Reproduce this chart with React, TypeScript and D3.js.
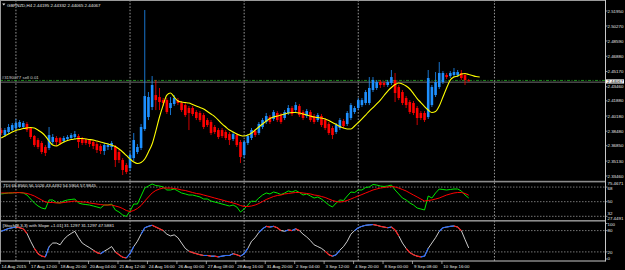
import React from "react";
import * as d3 from "d3";

const W = 625;
const H = 270;

const opens = [2.3861,2.3805,2.3839,2.3861,2.3884,2.3895,2.3895,2.3929,2.3884,2.3794,2.3749,2.3716,2.3671,2.3660,2.3727,2.3772,2.3772,2.3738,2.3760,2.3772,2.3783,2.3794,2.3760,2.3749,2.3749,2.3727,2.3704,2.3682,2.3626,2.3671,2.3671,2.3671,2.3615,2.3525,2.3469,2.3435,2.3547,2.3615,2.3660,2.3872,2.4007,2.4119,2.4253,2.4231,2.4197,2.4197,2.4108,2.4153,2.4197,2.4164,2.4141,2.4108,2.4108,2.4063,2.4052,2.4029,2.3973,2.3951,2.3895,2.3861,2.3861,2.3839,2.3816,2.3760,2.3805,2.3727,2.3581,2.3716,2.3772,2.3850,2.3828,2.3895,2.3951,2.4007,2.3985,2.4052,2.4029,2.3996,2.4052,2.4108,2.4085,2.4130,2.4063,2.4018,2.4063,2.4018,2.3973,2.4018,2.3973,2.3929,2.3884,2.3839,2.3884,2.3962,2.3929,2.3996,2.4063,2.4108,2.4141,2.4164,2.4164,2.4310,2.4332,2.4399,2.4388,2.4366,2.4388,2.4422,2.4343,2.4287,2.4220,2.4175,2.4164,2.4108,2.4052,2.4052,2.4007,2.4141,2.4253,2.4343,2.4399,2.4478,2.4466,2.4478,2.4478,2.4500,2.4478,2.44195];
const highs = [2.3884,2.3884,2.3929,2.3940,2.3985,2.3973,2.3962,2.3951,2.3895,2.3805,2.3772,2.3738,2.3693,2.3895,2.3816,2.3794,2.3783,2.3794,2.3805,2.3828,2.3850,2.3816,2.3783,2.3772,2.3760,2.3749,2.3727,2.3704,2.3716,2.3716,2.3738,2.3693,2.3637,2.3547,2.3491,2.3615,2.3828,2.3704,2.3929,2.5206,2.4287,2.4466,2.4422,2.4332,2.4220,2.4220,2.4231,2.4253,2.4220,2.4186,2.4164,2.4130,2.4130,2.4085,2.4074,2.4052,2.3996,2.3973,2.3917,2.3884,2.3884,2.3861,2.3839,2.3839,2.3828,2.3749,2.3749,2.3816,2.3884,2.3872,2.3951,2.3996,2.4052,2.4029,2.4085,2.4074,2.4052,2.4085,2.4141,2.4130,2.4175,2.4153,2.4085,2.4097,2.4085,2.4041,2.4052,2.4041,2.3996,2.3951,2.3906,2.3940,2.3996,2.3985,2.4074,2.4164,2.4130,2.4220,2.4220,2.4310,2.4455,2.4455,2.4422,2.4422,2.4410,2.4422,2.4534,2.4500,2.4366,2.4310,2.4242,2.4197,2.4186,2.4130,2.4074,2.4074,2.4534,2.4366,2.4511,2.4623,2.4522,2.4500,2.4522,2.4556,2.4534,2.4534,2.4500,2.44332];
const lows = [2.3805,2.3783,2.3816,2.3850,2.3861,2.3884,2.3872,2.3839,2.3760,2.3671,2.3648,2.3592,2.3570,2.3637,2.3704,2.3682,2.3693,2.3716,2.3738,2.3749,2.3760,2.3660,2.3693,2.3693,2.3671,2.3648,2.3604,2.3592,2.3581,2.3637,2.3637,2.3447,2.3491,2.3357,2.3368,2.3402,2.3514,2.3592,2.3637,2.3850,2.3973,2.4085,2.4085,2.4085,2.4130,2.4041,2.4029,2.4130,2.4141,2.4063,2.4007,2.3861,2.4018,2.3973,2.3951,2.3872,2.3895,2.3805,2.3816,2.3760,2.3772,2.3749,2.3693,2.3738,2.3671,2.3491,2.3547,2.3693,2.3749,2.3783,2.3805,2.3872,2.3929,2.3929,2.3962,2.3951,2.3929,2.3973,2.4029,2.4018,2.4063,2.4007,2.3973,2.3996,2.3951,2.3929,2.3951,2.3895,2.3861,2.3805,2.3760,2.3816,2.3861,2.3884,2.3906,2.3973,2.4041,2.4085,2.4119,2.4141,2.4141,2.4287,2.4310,2.4332,2.4343,2.4343,2.4366,2.4175,2.4197,2.4141,2.4108,2.4041,2.4029,2.3917,2.3973,2.3951,2.3985,2.4119,2.4231,2.4321,2.4377,2.4433,2.4444,2.4455,2.4455,2.4422,2.4366,2.44065];
const closes = [2.3828,2.3861,2.3895,2.3917,2.3940,2.3951,2.3940,2.3861,2.3783,2.3693,2.3671,2.3615,2.3604,2.3805,2.3783,2.3727,2.3716,2.3772,2.3783,2.3805,2.3816,2.3727,2.3716,2.3716,2.3704,2.3682,2.3637,2.3626,2.3693,2.3693,2.3716,2.3525,2.3525,2.3413,2.3391,2.3581,2.3749,2.3671,2.3895,2.4242,2.4231,2.4366,2.4197,2.4175,2.4164,2.4063,2.4164,2.4220,2.4164,2.4085,2.4029,2.4052,2.4041,2.3996,2.3973,2.3895,2.3917,2.3828,2.3839,2.3783,2.3794,2.3772,2.3749,2.3816,2.3693,2.3559,2.3727,2.3794,2.3861,2.3805,2.3929,2.3973,2.4018,2.3951,2.4063,2.3973,2.3951,2.4063,2.4108,2.4041,2.4141,2.4029,2.3996,2.4074,2.3973,2.3951,2.4029,2.3917,2.3884,2.3828,2.3805,2.3917,2.3973,2.3906,2.4052,2.4141,2.4108,2.4197,2.4197,2.4287,2.4332,2.4422,2.4399,2.4366,2.4366,2.4399,2.4455,2.4276,2.4220,2.4164,2.4141,2.4063,2.4052,2.3996,2.3996,2.3973,2.4444,2.4343,2.4399,2.4500,2.4500,2.4455,2.4500,2.4511,2.4511,2.4444,2.4422,2.44067];

const maValues = [2.3772,2.3794,2.3816,2.3839,2.3856,2.3867,2.3878,2.3884,2.3889,2.3884,2.3861,2.3833,2.3794,2.3738,2.3693,2.3682,2.3704,2.3727,2.3744,2.3755,2.3760,2.3766,2.3766,2.3760,2.3755,2.3749,2.3738,2.3727,2.3716,2.3704,2.3693,2.3677,2.3648,2.3615,2.3576,2.3536,2.3503,2.3486,2.3497,2.3536,2.3615,2.3704,2.3850,2.4007,2.4141,2.4253,2.4276,2.4231,2.4186,2.4175,2.4169,2.4164,2.4147,2.4130,2.4113,2.4097,2.4068,2.4041,2.4012,2.3973,2.3929,2.3895,2.3861,2.3839,2.3816,2.3800,2.3794,2.3805,2.3828,2.3861,2.3895,2.3929,2.3962,2.3990,2.4007,2.4018,2.4029,2.4041,2.4052,2.4058,2.4058,2.4052,2.4041,2.4029,2.4018,2.4007,2.4001,2.3996,2.3985,2.3968,2.3945,2.3923,2.3900,2.3884,2.3872,2.3872,2.3906,2.3945,2.3985,2.4029,2.4074,2.4113,2.4153,2.4197,2.4248,2.4298,2.4338,2.4371,2.4388,2.4377,2.4354,2.4321,2.4270,2.4214,2.4169,2.4124,2.4085,2.4058,2.4068,2.4130,2.4231,2.4332,2.4422,2.4455,2.4466,2.4489,2.4494,2.4483,2.4472,2.4461,2.4455];

const tdiPriceLine = [59.5,60.1,60.7,60.7,61.3,61.3,60.7,58.2,53.3,48.4,44.7,42.2,41.0,52.1,52.1,49.0,48.4,50.8,52.1,52.7,53.3,48.4,47.1,46.5,45.9,44.7,43.5,42.2,45.9,45.9,47.1,39.8,37.3,33.6,31.8,38.5,47.1,47.1,57.0,66.8,69.3,71.8,69.9,69.3,68.1,64.4,64.4,65.6,63.2,60.7,59.5,58.2,58.2,57.0,55.8,53.3,53.3,50.8,49.6,48.4,47.1,45.9,44.7,45.9,43.5,37.3,41.0,45.9,50.8,50.2,54.5,58.2,60.7,59.5,61.9,60.7,58.8,60.7,63.2,61.9,63.8,61.3,58.2,59.5,57.0,54.5,55.8,53.3,49.6,45.9,43.5,48.4,52.1,51.5,57.0,61.9,61.3,64.4,64.4,67.5,68.1,71.2,70.5,69.3,68.7,69.3,70.5,64.4,59.5,54.5,52.1,48.4,45.9,42.2,41.0,39.8,57.0,54.5,60.7,65.6,65.0,64.4,65.0,65.6,65.6,63.2,58.2,54.5904];
const tdiSignalLine = [60.7,60.7,60.7,60.9,61.1,61.1,60.9,60.1,58.8,57.0,54.5,52.1,49.6,49.0,49.0,48.4,48.4,49.0,49.6,50.2,50.8,50.2,49.6,49.6,48.4,47.8,47.1,46.5,45.9,45.9,45.9,44.7,43.5,41.6,39.1,37.9,39.1,41.6,45.3,50.8,55.8,60.7,63.8,65.6,66.8,66.8,66.8,66.2,65.6,64.4,63.8,62.5,61.3,60.1,59.5,58.2,57.0,55.8,54.5,53.3,52.1,50.8,49.6,48.4,47.1,45.3,44.1,44.1,44.7,45.9,47.8,50.2,52.7,54.5,56.4,57.6,58.2,59.5,60.1,60.7,61.3,61.3,60.7,60.1,59.5,58.2,57.6,56.4,55.2,53.3,51.5,50.2,49.6,50.2,51.5,53.3,55.2,57.0,58.8,60.7,62.5,64.4,65.6,66.8,67.5,68.1,68.7,68.1,66.8,65.0,63.2,60.7,58.2,55.8,53.3,50.8,51.5,52.1,53.3,54.5,56.4,58.2,59.5,60.7,61.3,61.3,60.1,57.9845];

const stochMain = [78,82,86,88,90,88,85,72,50,30,15,8,6,35,45,45,40,55,65,72,78,60,45,38,32,25,18,15,22,28,35,20,12,5,3,15,35,50,70,88,92,95,90,85,80,70,65,68,60,45,30,22,18,15,12,10,10,8,8,6,8,10,10,15,12,8,15,30,50,60,75,85,92,90,92,88,80,78,82,80,85,80,70,62,52,40,35,30,22,12,8,12,25,35,50,70,80,88,92,95,96,97,95,92,90,88,90,82,65,45,30,18,12,8,6,8,30,45,60,78,88,90,92,93,90,80,55,31.1297];

const priceTicks = [2.5195,2.5027,2.4859,2.4688,2.4517,2.4346,2.4188,2.4018,2.3848,2.3685,2.3513,2.3346];
const timeLabels = ["14 Aug 2015","17 Aug 12:00","18 Aug 20:00","20 Aug 04:00","21 Aug 12:00","24 Aug 16:00","26 Aug 00:00","27 Aug 08:00","28 Aug 16:00","31 Aug 20:00","2 Sep 04:00","3 Sep 12:00","4 Sep 20:00","8 Sep 00:00","9 Sep 08:00","10 Sep 16:00"];
const timeLabelBars = [0,8,16,24,32,40,48,56,64,72,80,88,96,104,112,120];
const weekStartBars = [4,35,66,97,134];
const tdiLevels = [68,50,32];
const tdiRange = [27.4491,75.4671];
const stochLevels = [80,20];
const stochAxis = [100,80,20,0];
const bidPrice = 2.44067;
const orderPrice = 2.4417;

const FONT = "'Liberation Sans', Arial, sans-serif";
const FS = 4.4;
const TXT = "#e6e6e6";

export default function App() {
  const right = 605.5;
  const x = d3.scaleLinear().domain([0, 127]).range([1.2, 468.7]);
  const yMain = d3.scaleLinear().domain([2.3346, 2.5195]).range([176, 11]);
  const yTdi = d3.scaleLinear().domain(tdiRange).range([220, 181]);
  const ySto = d3.scaleLinear().domain([0, 100]).range([259, 223.5]);
  const bw = 2.6;

  const maLine = d3.line<number>().x((_, i) => x(i)).y((d) => yMain(d)).curve(d3.curveMonotoneX);
  const tdiLine = d3.line<number>().x((_, i) => x(i)).y((d) => yTdi(d));
  const stoLine = d3.line<number>().x((_, i) => x(i)).y((d) => ySto(d));

  const stochSegs: { i: number; color: string }[] = [];
  for (let i = 0; i < stochMain.length - 1; i++) {
    const a = stochMain[i], b = stochMain[i + 1];
    if (Math.max(a, b) > 80 || Math.min(a, b) < 20) {
      stochSegs.push({ i, color: b >= a ? "#2a6bff" : "#ff1a1a" });
    }
  }

  const tdiLabelY = (v: number) => {
    const y = yTdi(v) + 1.6;
    if (v === 32) return y - 2.6;
    return y;
  };

  return (
    <svg width={W} height={H} style={{ position: "fixed", left: 0, top: 0, background: "#000" }}>
      <defs>
        <clipPath id="cMain"><rect x={0} y={0} width={right} height={181} /></clipPath>
        <clipPath id="cTdi"><rect x={0} y={182} width={right} height={38.5} /></clipPath>
        <clipPath id="cSto"><rect x={0} y={221.5} width={right} height={39.5} /></clipPath>
      </defs>
      <rect x={0} y={0} width={W} height={H} fill="#000" />

      {/* vertical grid */}
      {weekStartBars.map((b) => (
        <line key={"g" + b} x1={x(b)} x2={x(b)} y1={0} y2={261} stroke="#bdbdbd" strokeWidth={0.8} strokeDasharray="1.6,1.6" />
      ))}

      {/* indicator levels */}
      {tdiLevels.map((v) => (
        <line key={"tl" + v} x1={0} x2={right} y1={yTdi(v)} y2={yTdi(v)} stroke="#a8a8a8" strokeWidth={0.7} strokeDasharray="1.5,1.5" />
      ))}
      {stochLevels.map((v) => (
        <line key={"sl" + v} x1={0} x2={right} y1={ySto(v)} y2={ySto(v)} stroke="#a8a8a8" strokeWidth={0.7} strokeDasharray="1.5,1.5" />
      ))}

      {/* order & bid lines */}
      <line x1={0} x2={right} y1={yMain(bidPrice) + 0.8} y2={yMain(bidPrice) + 0.8} stroke="#8a8a8a" strokeWidth={0.8} />
      <line x1={0} x2={right} y1={yMain(orderPrice)} y2={yMain(orderPrice)} stroke="#1f9a1f" strokeWidth={0.9} strokeDasharray="3,1.5,1,1.5" />
      <text x={1.7} y={yMain(orderPrice) - 1.3} fill="#d0d0d0" fontSize={FS} fontFamily={FONT}>#3190077 sell 0.01</text>

      {/* candles */}
      <g clipPath="url(#cMain)">
        {closes.map((c, i) => {
          const o = opens[i];
          const bull = c >= o;
          const col = bull ? "#1e90ff" : "#ff0000";
          const yt = yMain(Math.max(o, c));
          const yb = yMain(Math.min(o, c));
          return (
            <g key={"c" + i}>
              <line x1={x(i)} x2={x(i)} y1={yMain(highs[i])} y2={yMain(lows[i])} stroke={col} strokeWidth={0.8} />
              <rect x={x(i) - bw / 2} y={yt} width={bw} height={Math.max(0.8, yb - yt)} fill={col} />
            </g>
          );
        })}
        <path d={maLine(maValues) || ""} fill="none" stroke="#ffff00" strokeWidth={1.1} />
      </g>

      {/* TDI */}
      <g clipPath="url(#cTdi)">
        <path d={tdiLine(tdiPriceLine) || ""} fill="none" stroke="#00e600" strokeWidth={1} />
        <path d={tdiLine(tdiSignalLine) || ""} fill="none" stroke="#ff0000" strokeWidth={1} />
      </g>

      {/* Stoch */}
      <g clipPath="url(#cSto)">
        <path d={stoLine(stochMain) || ""} fill="none" stroke="#ffffff" strokeWidth={0.8} />
        {stochSegs.map((s) => (
          <line key={"ss" + s.i} x1={x(s.i)} x2={x(s.i + 1)} y1={ySto(stochMain[s.i])} y2={ySto(stochMain[s.i + 1])} stroke={s.color} strokeWidth={1.1} />
        ))}
      </g>

      {/* frame & separators */}
      <line x1={0} x2={right} y1={0.5} y2={0.5} stroke="#9a9a9a" strokeWidth={1} />
      <line x1={0.5} x2={0.5} y1={0} y2={261} stroke="#9a9a9a" strokeWidth={1} />
      <rect x={0} y={180.8} width={right} height={1.6} fill="#8c8c8c" />
      <rect x={0} y={220} width={right} height={1.6} fill="#8c8c8c" />
      <line x1={0} x2={right} y1={261} y2={261} stroke="#c8c8c8" strokeWidth={1} />
      <line x1={right} x2={right} y1={0} y2={261.5} stroke="#c8c8c8" strokeWidth={1} />

      {/* headers */}
      <path d="M2.2,3.6 L5.4,3.6 L3.8,5.6 Z" fill="#e0e0e0" />
      <text x={7} y={6.8} fill={TXT} fontSize={FS} fontFamily={FONT}>GBPNZD,H4  2.44195 2.44332 2.44065 2.44067</text>
      <text x={3.3} y={186.8} fill={TXT} fontSize={FS} fontFamily={FONT}>TDI 68.8560 56.1026 43.4492 54.5904 57.9845</text>
      <text x={2.7} y={227.4} fill={TXT} fontSize={FS} fontFamily={FONT}>[Stoch(8,3,3) with Slope +1.01] 31.1297 31.1297 47.5881</text>

      {/* price axis */}
      {priceTicks.map((p) => (
        <g key={"p" + p}>
          <line x1={right} x2={right + 2} y1={yMain(p)} y2={yMain(p)} stroke="#c8c8c8" strokeWidth={0.7} />
          <text x={607.5} y={yMain(p) + 1.6} fill={TXT} fontSize={FS} fontFamily={FONT}>{p.toFixed(5)}</text>
        </g>
      ))}
      <rect x={606} y={yMain(bidPrice) - 2} width={18} height={4.2} fill="#f2f2f2" />
      <text x={607.3} y={yMain(bidPrice) + 1.6} fill="#000" fontSize={FS} fontFamily={FONT}>{bidPrice.toFixed(5)}</text>

      {/* TDI axis */}
      <text x={607.5} y={185} fill={TXT} fontSize={FS} fontFamily={FONT}>{tdiRange[1].toFixed(4)}</text>
      {tdiLevels.map((v) => (
        <g key={"ta" + v}>
          <line x1={right} x2={right + 2} y1={yTdi(v)} y2={yTdi(v)} stroke="#c8c8c8" strokeWidth={0.7} />
          <text x={607.5} y={v === 68 ? tdiLabelY(v) + 1.2 : tdiLabelY(v)} fill={TXT} fontSize={FS} fontFamily={FONT}>{v}</text>
        </g>
      ))}
      <text x={607.5} y={220.2} fill={TXT} fontSize={FS} fontFamily={FONT}>{tdiRange[0].toFixed(4)}</text>

      {/* Stoch axis */}
      {stochAxis.map((v) => (
        <g key={"sa" + v}>
          <line x1={right} x2={right + 2} y1={ySto(v)} y2={ySto(v)} stroke="#c8c8c8" strokeWidth={0.7} />
          <text x={607.5} y={Math.max(226.2, Math.min(260.2, ySto(v) + 1.6))} fill={TXT} fontSize={FS} fontFamily={FONT}>{v}</text>
        </g>
      ))}

      {/* time axis */}
      {timeLabelBars.map((b, k) => (
        <g key={"t" + b}>
          <line x1={x(b) - 1} x2={x(b) - 1} y1={261} y2={264} stroke="#c8c8c8" strokeWidth={0.7} />
          <text x={x(b) + 0.4} y={268} fill={TXT} fontSize={FS} fontFamily={FONT}>{timeLabels[k]}</text>
        </g>
      ))}
    </svg>
  );
}
